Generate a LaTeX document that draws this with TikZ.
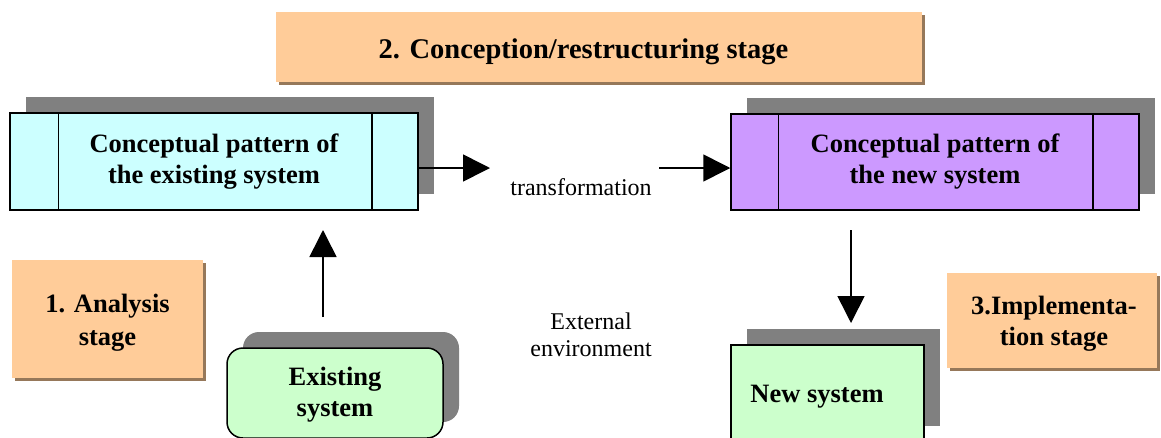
\documentclass[tikz,border=0pt]{standalone}
\usepackage{fontspec}
\setmainfont{Liberation Serif}
\usetikzlibrary{arrows.meta,shadows,calc}
\definecolor{peach}{RGB}{255,204,153}
\definecolor{peachshadow}{RGB}{150,120,90}
\definecolor{cyanfill}{RGB}{204,255,255}
\definecolor{purplefill}{RGB}{204,153,255}
\definecolor{greenfill}{RGB}{204,255,204}
\definecolor{shadowgray}{RGB}{128,128,128}
\tikzset{
  boldtext/.style={font=\fontsize{26.5}{31}\selectfont\bfseries, align=center},
  titletext/.style={font=\fontsize{28.5}{33}\selectfont\bfseries, align=center},
  plaintext/.style={font=\fontsize{24}{27}\selectfont, align=center},
  stagebox/.style={fill=peach, draw=none, inner sep=0pt,
    general shadow={fill=peachshadow, shadow xshift=3pt, shadow yshift=-3pt}},
  patternbox/.style={draw=black, line width=1.5pt, inner sep=0pt,
    general shadow={fill=shadowgray, shadow xshift=16pt, shadow yshift=16pt}},
  divider/.style={line width=1.5pt},
  arr/.style={line width=1.6pt, -{Triangle[length=27pt,width=27pt]}},
}
\begin{document}
\begin{tikzpicture}[x=1pt,y=-1pt]
\clip (0,0) rectangle (1161,437);
\fill[white] (0,0) rectangle (1161,437);

% stage boxes
\node[stagebox, minimum width=646pt, minimum height=70pt] (conc) at (599,47) {};
\node[titletext, anchor=base] (conclabel) at (583.5,58) {2. Conception/restructuring stage};
\node[stagebox, minimum width=191pt, minimum height=118pt] (anal) at (107.5,319) {};
\node[boldtext] (anallabel) at (107.5,323) {1. Analysis\\[2pt]stage};
\node[stagebox, minimum width=210pt, minimum height=95pt] (impl) at (1052,320.5) {};
\node[boldtext] (impllabel) at (1054,324) {3.Implementa-\\tion stage};

% conceptual pattern boxes
\node[patternbox, boldtext, fill=cyanfill, minimum width=408pt, minimum height=97pt] (exist) at (214,161.5) {Conceptual pattern of\\the existing system};
\draw[divider] ([xshift=49pt]exist.north west) -- ([xshift=49pt]exist.south west);
\draw[divider] ([xshift=-47pt]exist.north east) -- ([xshift=-47pt]exist.south east);

\node[patternbox, boldtext, fill=purplefill, minimum width=408pt, minimum height=96pt] (newpat) at (935,162) {Conceptual pattern of\\the new system};
\draw[divider] ([xshift=48pt]newpat.north west) -- ([xshift=48pt]newpat.south west);
\draw[divider] ([xshift=-47pt]newpat.north east) -- ([xshift=-47pt]newpat.south east);

% systems
\node[patternbox, fill=greenfill, rounded corners=16pt, minimum width=216pt, minimum height=90pt] (exsys) at (335,393) {};
\node[boldtext] (exsyslabel) at (335,395) {Existing\\system};
\node[patternbox, fill=greenfill, minimum width=193pt, minimum height=97pt] (newsys) at (827.5,393.5) {};
\node[boldtext, anchor=base] (newsyslabel) at (817,402) {New system};

% texts
\node[plaintext, anchor=base] (trans) at (581,195) {transformation};
\node[plaintext] (ext) at (591,335) {External\\environment};

% arrows
\coordinate (t1end) at (490,168);
\draw[arr] (exist.east |- t1end) -- (t1end);
\coordinate (t2start) at (659,168);
\draw[arr] (t2start) -- (t2start -| newpat.west);
\coordinate (upstart) at (323,317);
\coordinate (upend) at (323,230);
\draw[arr] (upstart) -- (upend);
\coordinate (downstart) at (851,230);
\coordinate (downend) at (851,323);
\draw[arr] (downstart) -- (downend);
\end{tikzpicture}
\end{document}
